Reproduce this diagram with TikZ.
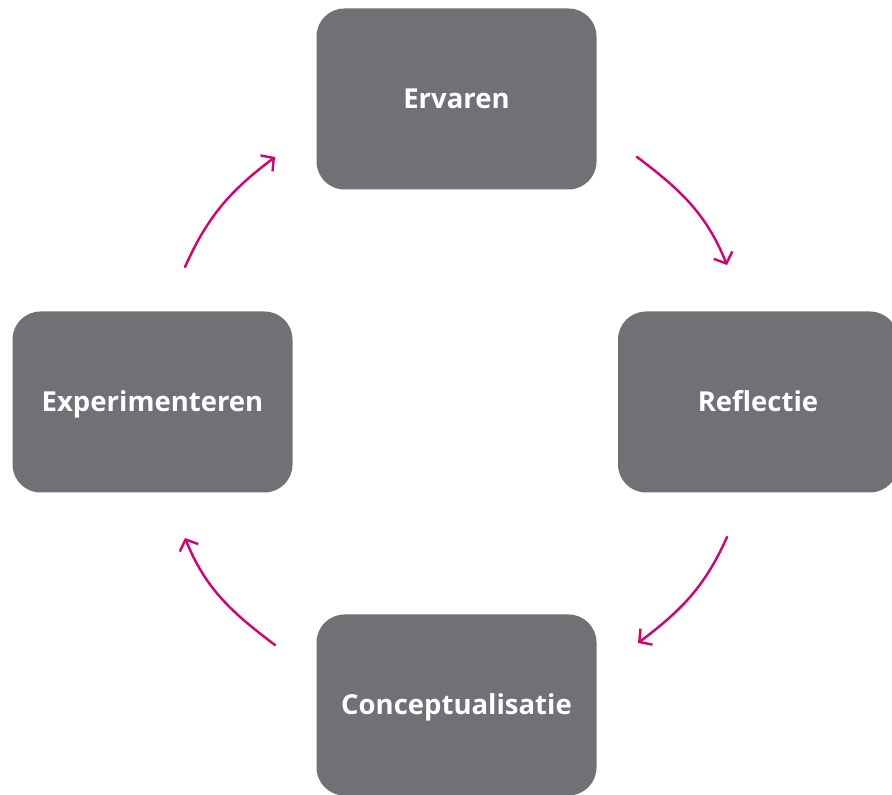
\documentclass[tikz,border=0pt]{standalone}
\usepackage{fontspec}
\setmainfont{Open Sans}
\usetikzlibrary{arrows.meta}
\definecolor{boxgray}{HTML}{717175}
\definecolor{arrmag}{HTML}{D6006E}
\tikzset{
  stagebox/.style={fill=boxgray, rounded corners=28pt, minimum width=280pt, minimum height=181pt, text=white, font=\fontsize{27.5}{32}\selectfont\bfseries, inner sep=0pt},
  stagetext/.style={text=white, font=\fontsize{27.5}{32}\selectfont\bfseries, inner sep=0pt},
  cyclearrow/.style={draw=arrmag, line width=2.4pt, line cap=round, -{Straight Barb[length=9pt,width=20pt,line width=2.4pt]}}
}
\begin{document}
\begin{tikzpicture}[x=1pt,y=1pt]
\useasboundingbox (0,0) rectangle (892,795);
\node[stagebox] (erv) at (456.5,696) {};
\node[stagebox] (ref) at (758,393) {};
\node[stagebox] (exp) at (152.5,393) {};
\node[stagebox] (con) at (456.5,90) {};
\node[stagetext, anchor=base] (ervt) at (456.5,686) {Ervaren};
\node[stagetext, anchor=base] (reft) at (758,383) {Reflectie};
\node[stagetext, anchor=base] (expt) at (152.5,383) {Experimenteren};
\node[stagetext, anchor=base] (cont) at (456.5,80) {Conceptualisatie};
\coordinate (a1s) at (637,638); \coordinate (a1e) at (727,530);
\coordinate (a2s) at (727,258); \coordinate (a2e) at (638,152);
\coordinate (a3s) at (275,150); \coordinate (a3e) at (185,257);
\coordinate (a4s) at (185,528); \coordinate (a4e) at (275,638);
\draw[cyclearrow] (a1s) to[out=-37,in=112] (a1e);
\draw[cyclearrow] (a2s) to[out=-114,in=37] (a2e);
\draw[cyclearrow] (a3s) to[out=143,in=-68] (a3e);
\draw[cyclearrow] (a4s) to[out=66,in=-143] (a4e);
\end{tikzpicture}
\end{document}
